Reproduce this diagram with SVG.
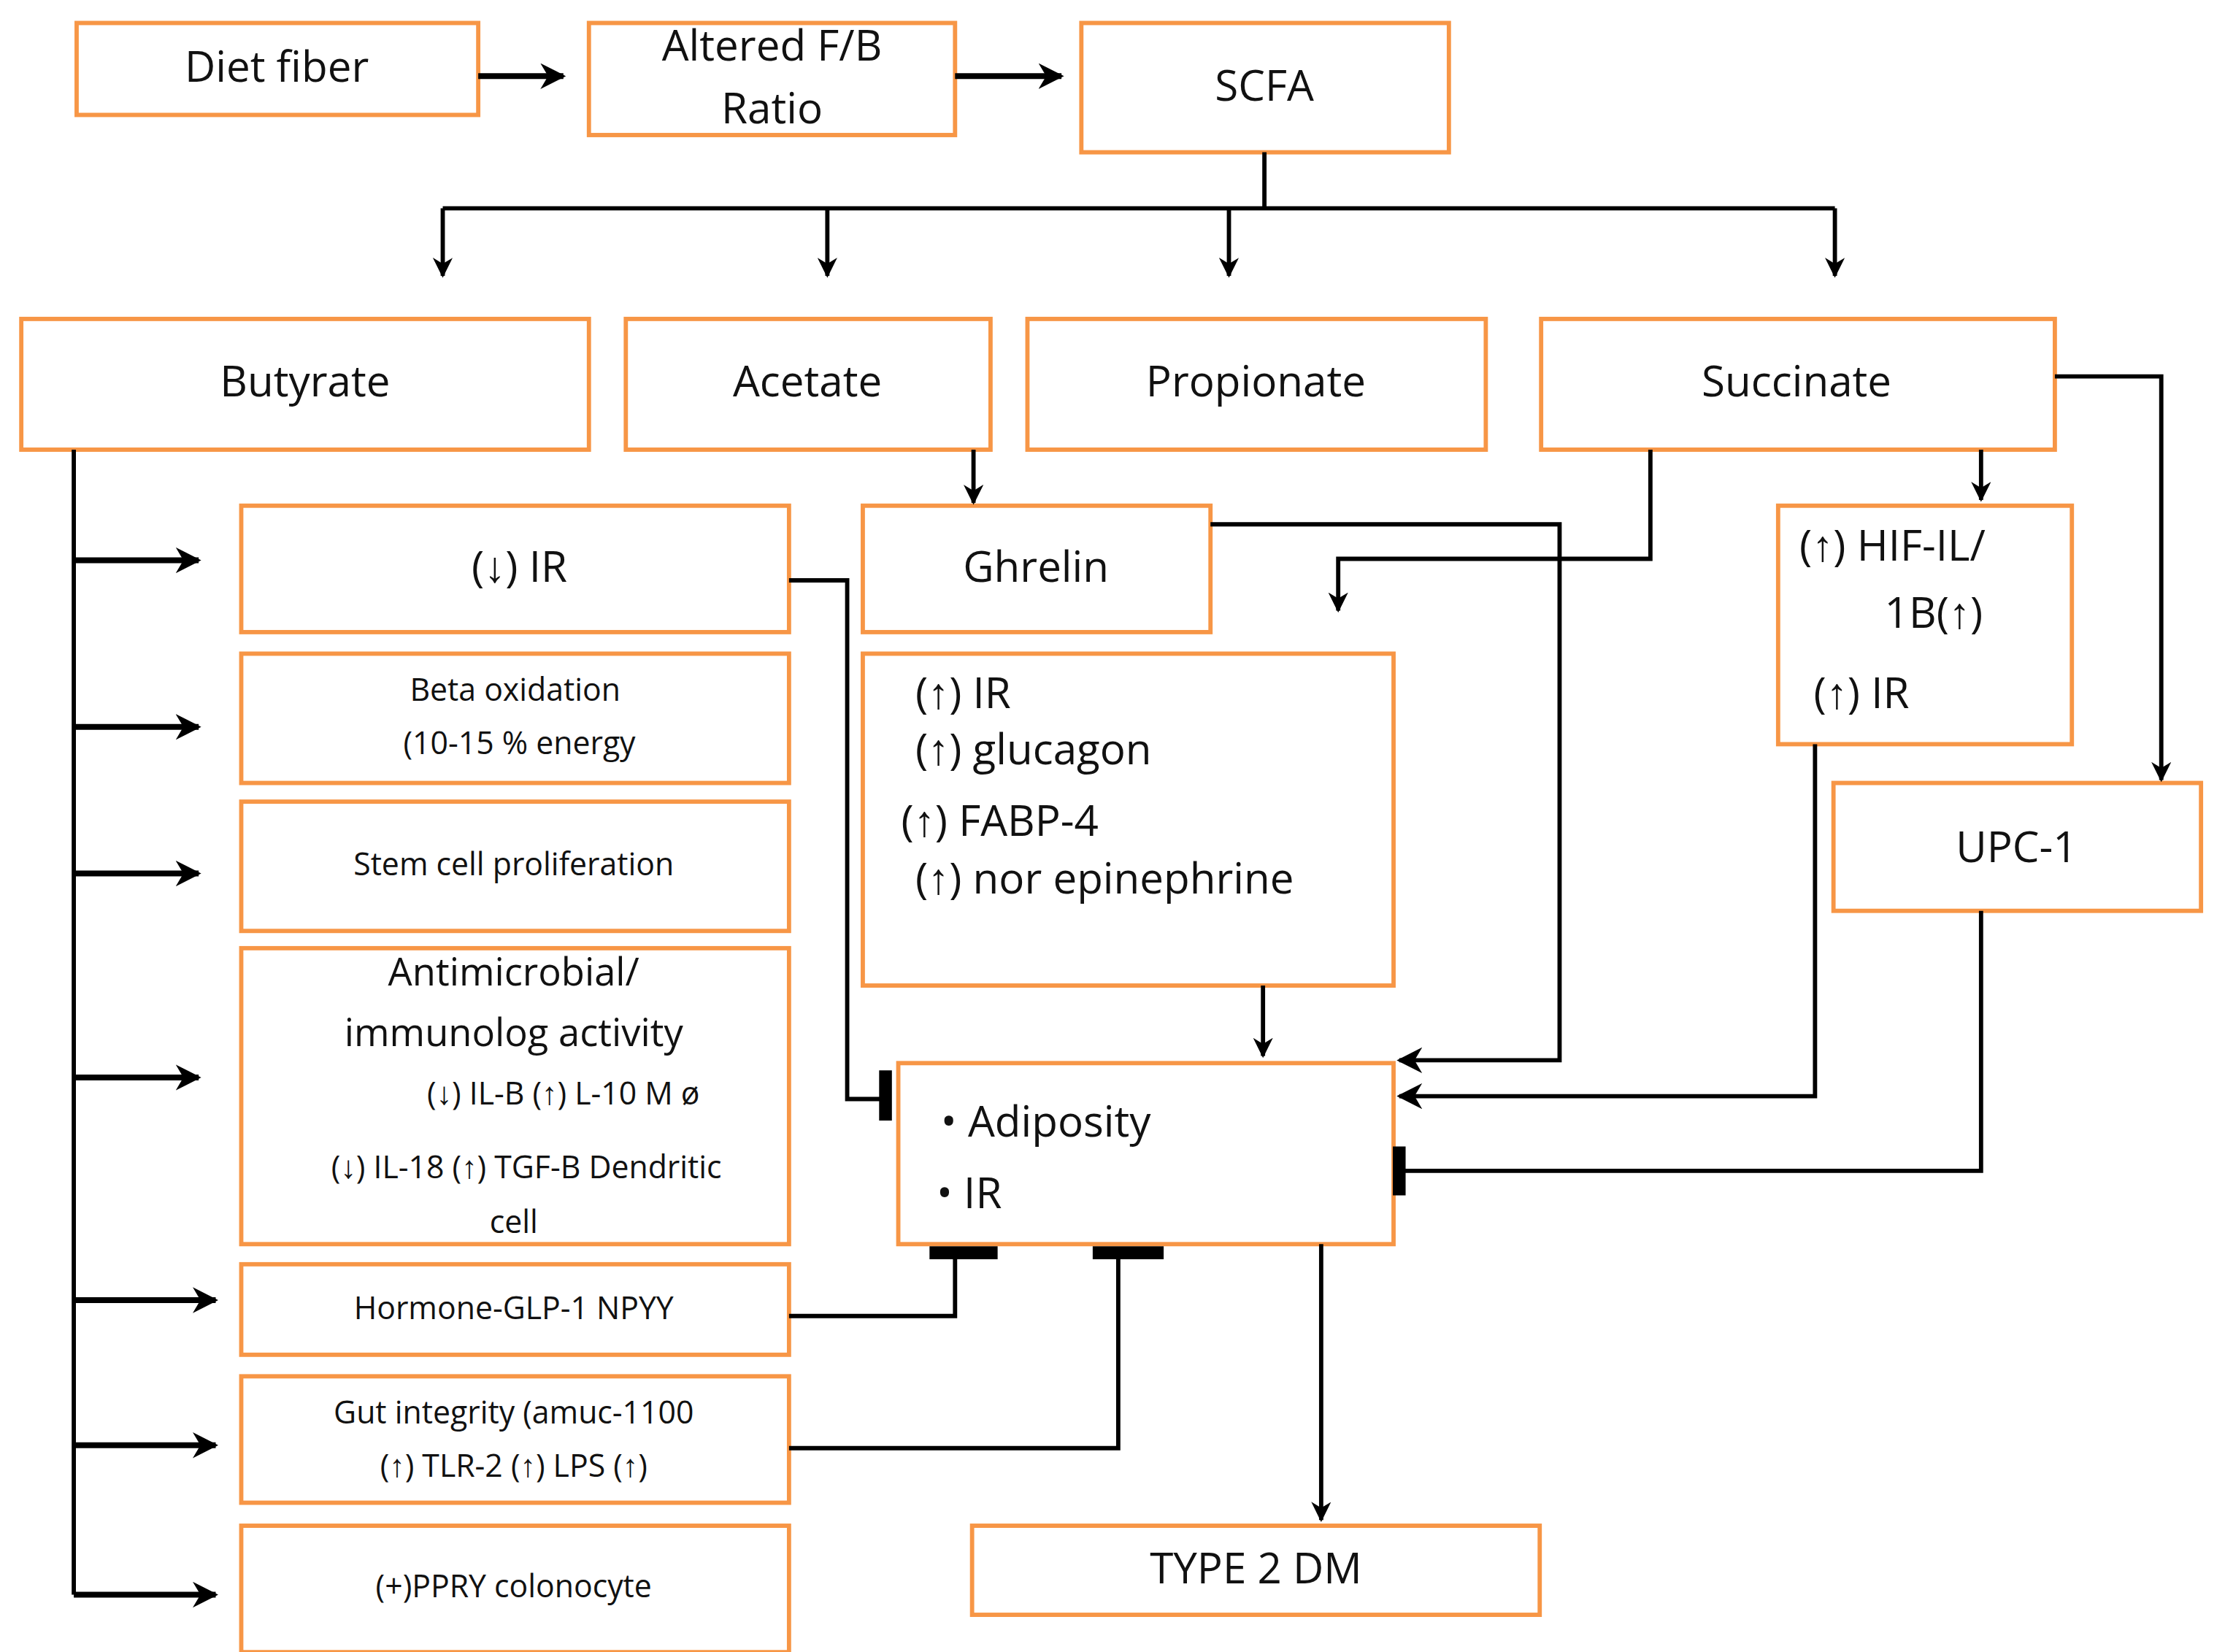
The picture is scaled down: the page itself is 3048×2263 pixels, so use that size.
<svg xmlns="http://www.w3.org/2000/svg" width="3048" height="2263" viewBox="0 0 3048 2263">
<style>
.b{fill:#fff;stroke:#f79646;stroke-width:3}
.t{font-family:"Open Sans","Liberation Sans",sans-serif;fill:#111;text-anchor:middle}
.l{font-size:30px}.s{font-size:22px}.m{font-size:27px}
.c{fill:none;stroke:#000;stroke-width:3}
.k{fill:none;stroke:#000;stroke-width:4}
.bar{stroke:#000;stroke-width:9}
</style>
<defs><marker id="a" viewBox="0 0 10 10" refX="9" refY="5" markerWidth="14" markerHeight="14" markerUnits="userSpaceOnUse" orient="auto"><path d="M0,0L10,5L0,10L3,5z" fill="#000"/></marker>
<marker id="a2" viewBox="0 0 10 10" refX="9" refY="5" markerWidth="18" markerHeight="18" markerUnits="userSpaceOnUse" orient="auto"><path d="M0,0L10,5L0,10L3,5z" fill="#000"/></marker></defs>
<rect width="3048" height="2263" fill="#fff"/>
<g transform="scale(1.944,1.968)">
<g id="diet"><rect class="b" x="54" y="16" width="283" height="64"/><text class="t l" x="195" y="57">Diet fiber</text></g>
<g id="fb"><rect class="b" x="415" y="16" width="258" height="78"/><text class="t l" x="544" y="42">Altered F/B</text><text class="t l" x="544" y="86">Ratio</text></g>
<g id="scfa"><rect class="b" x="762" y="16" width="259" height="90"/><text class="t l" x="891" y="70">SCFA</text></g>
<g id="but"><rect class="b" x="15" y="222" width="400" height="91"/><text class="t l" x="215" y="276">Butyrate</text></g>
<g id="ace"><rect class="b" x="441" y="222" width="257" height="91"/><text class="t l" x="569" y="276">Acetate</text></g>
<g id="pro"><rect class="b" x="724" y="222" width="323" height="91"/><text class="t l" x="885" y="276">Propionate</text></g>
<g id="suc"><rect class="b" x="1086" y="222" width="362" height="91"/><text class="t l" x="1266" y="276">Succinate</text></g>
<g id="ir"><rect class="b" x="170" y="352" width="386" height="88"/><text class="t l" x="366" y="405">(↓) IR</text></g>
<g id="beta"><rect class="b" x="170" y="455" width="386" height="90"/><text class="t s" x="363" y="488">Beta oxidation</text><text class="t s" x="366" y="525">(10-15 % energy</text></g>
<g id="stem"><rect class="b" x="170" y="558" width="386" height="90"/><text class="t s" x="362" y="609">Stem cell proliferation</text></g>
<g id="anti"><rect class="b" x="170" y="660" width="386" height="206"/><text class="t m" x="362" y="686">Antimicrobial/</text><text class="t m" x="362" y="728">immunolog activity</text><text class="t s" x="397" y="769">(↓) IL-B   (↑) L-10 M ø</text><text class="t s" x="371" y="820">(↓) IL-18 (↑) TGF-B Dendritic</text><text class="t s" x="362" y="858">cell</text></g>
<g id="horm"><rect class="b" x="170" y="880" width="386" height="63"/><text class="t s" x="362" y="918">Hormone-GLP-1 NPYY</text></g>
<g id="gut"><rect class="b" x="170" y="958" width="386" height="88"/><text class="t s" x="362" y="991">Gut integrity (amuc-1100</text><text class="t s" x="362" y="1028">(↑) TLR-2 (↑) LPS (↑)</text></g>
<g id="ppry"><rect class="b" x="170" y="1062" width="386" height="88"/><text class="t s" x="362" y="1112">(+)PPRY colonocyte</text></g>
<g id="ghr"><rect class="b" x="608" y="352" width="245" height="88"/><text class="t l" x="730" y="405">Ghrelin</text></g>
<g id="eff"><rect class="b" x="608" y="455" width="374" height="231"/><g class="t l" style="text-anchor:start"><text x="645" y="493">(↑) IR</text><text x="645" y="532">(↑) glucagon</text><text x="635" y="582">(↑) FABP-4</text><text x="645" y="622">(↑) nor epinephrine</text></g></g>
<g id="hif"><rect class="b" x="1253" y="352" width="207" height="166"/><g class="t l" style="text-anchor:start"><text x="1268" y="390">(↑) HIF-IL/</text><text x="1328" y="437">1B(↑)</text><text x="1278" y="493">(↑) IR</text></g></g>
<g id="upc"><rect class="b" x="1292" y="545" width="259" height="89"/><text class="t l" x="1421" y="600">UPC-1</text></g>
<g id="adip"><rect class="b" x="633" y="740" width="349" height="126"/><g class="t l" style="text-anchor:start"><text x="663" y="791">• Adiposity</text><text x="660" y="841">• IR</text></g></g>
<g id="t2"><rect class="b" x="685" y="1062" width="400" height="62"/><text class="t l" x="885" y="1102">TYPE 2 DM</text></g>
<g id="connectors">
<path class="k" d="M337,53H397" marker-end="url(#a2)"/>
<path class="k" d="M673,53H748" marker-end="url(#a2)"/>
<path class="c" d="M891,106V145M312,145H1293"/>
<path class="c" d="M312,145V192" marker-end="url(#a)"/>
<path class="c" d="M583,145V192" marker-end="url(#a)"/>
<path class="c" d="M866,145V192" marker-end="url(#a)"/>
<path class="c" d="M1293,145V192" marker-end="url(#a)"/>
<path class="c" d="M52,313V1110"/>
<path class="k" d="M52,390H140" marker-end="url(#a2)"/>
<path class="k" d="M52,506H140" marker-end="url(#a2)"/>
<path class="k" d="M52,608H140" marker-end="url(#a2)"/>
<path class="k" d="M52,750H140" marker-end="url(#a2)"/>
<path class="k" d="M52,905H152" marker-end="url(#a2)"/>
<path class="k" d="M52,1006H152" marker-end="url(#a2)"/>
<path class="k" d="M52,1110H152" marker-end="url(#a2)"/>
<path class="c" d="M686,313V350" marker-end="url(#a)"/>
<path class="c" d="M890,686V735" marker-end="url(#a)"/>
<path class="c" d="M556,404H597V765H624"/><path class="bar" d="M624,745V780"/>
<path class="c" d="M853,365H1099V738H986" marker-end="url(#a2)"/>
<path class="c" d="M1163,313V389H943V425" marker-end="url(#a)"/>
<path class="c" d="M1448,262H1523V543" marker-end="url(#a)"/>
<path class="c" d="M1396,313V348" marker-end="url(#a)"/>
<path class="c" d="M1279,518V763H986" marker-end="url(#a2)"/>
<path class="c" d="M1396,634V815H986"/><path class="bar" d="M986,798V832"/>
<path class="c" d="M556,916H673V874"/><path class="bar" d="M655,872H703"/>
<path class="c" d="M556,1008H788V874"/><path class="bar" d="M770,872H820"/>
<path class="c" d="M931,866V1058" marker-end="url(#a)"/>
</g>
</g>
</svg>
